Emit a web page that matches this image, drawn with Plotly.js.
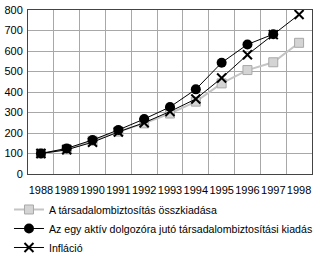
<!DOCTYPE html>
<html><head><meta charset="utf-8">
<script src="https://cdn.plot.ly/plotly-3.0.1.min.js"></script>
<style>html,body{margin:0;padding:0;background:#fff;}#chart{width:326px;height:255px;}</style>
</head><body><div id="chart"></div>
<script>
var years = ["1988","1989","1990","1991","1992","1993","1994","1995","1996","1997","1998"];
var osszkiadas = [100,120,162,207,247,295,353,442,507,545,640];
var aktivKiadas = [100,125,166,215,268,327,413,543,632,682,null];
var inflacio = [100,118,155,205,250,305,366,468,582,680,778];
var seriesNames = ["A társadalombiztosítás összkiadása","Az egy aktív dolgozóra jutó társadalombiztosítási kiadás","Infláció"];

var traces = [
  {x: years, y: osszkiadas, name: seriesNames[0], type: 'scatter', mode: 'lines+markers',
   line: {color: '#c4c4c4', width: 2},
   marker: {symbol: 'square', size: 9, color: '#d4d4d4', line: {color: '#a8a8a8', width: 1}}},
  {x: years, y: aktivKiadas, name: seriesNames[1], type: 'scatter', mode: 'lines+markers',
   line: {color: '#000', width: 1},
   marker: {symbol: 'circle', size: 10, color: '#000'}},
  {x: years, y: inflacio, name: seriesNames[2], type: 'scatter', mode: 'lines+markers',
   line: {color: '#000', width: 1},
   marker: {symbol: 'x-thin-open', size: 9, color: '#000', line: {color: '#000', width: 2}}}
];

var layout = {
  width: 326, height: 255,
  margin: {l: 28, r: 14, t: 10, b: 81, autoexpand: false},
  paper_bgcolor: '#fff', plot_bgcolor: '#fff',
  font: {family: 'Liberation Sans, Arial, sans-serif', size: 11, color: '#000'},
  showlegend: true,
  legend: {x: -0.067, y: -0.128, xanchor: 'left', yanchor: 'top',
    font: {size: 10.6}, tracegroupgap: 0, bgcolor: 'rgba(0,0,0,0)'},
  xaxis: {type: 'category', range: [-0.5, 10.5], tickson: 'boundaries', ticks: '', tickangle: 0,
    showgrid: true, gridcolor: '#a8a8a8', gridwidth: 1,
    showline: true, linecolor: '#444', linewidth: 1, mirror: true,
    tickfont: {size: 11}, ticklabelstandoff: 6, fixedrange: true},
  yaxis: {range: [0, 800], dtick: 100, ticks: '', showgrid: true, gridcolor: '#a8a8a8', gridwidth: 1,
    showline: true, linecolor: '#444', linewidth: 1, mirror: true, zeroline: false,
    tickfont: {size: 11}, ticklabelstandoff: 2, fixedrange: true}
};

Plotly.newPlot('chart', traces, layout, {staticPlot: true, displayModeBar: false});
</script>
</body></html>
